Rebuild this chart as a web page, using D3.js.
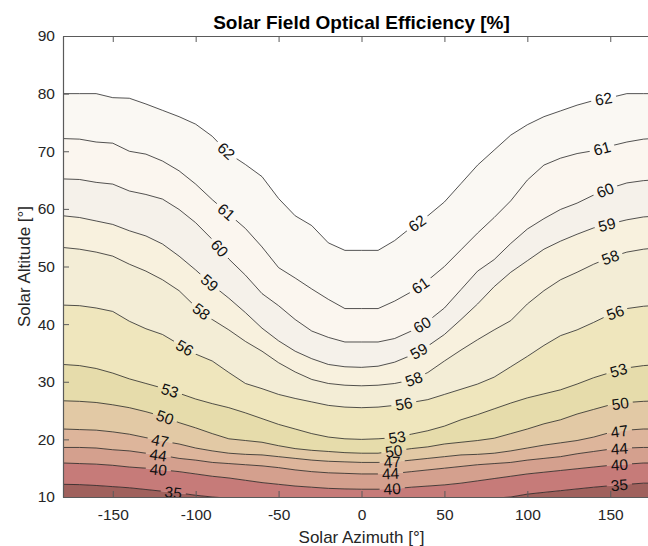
<!DOCTYPE html>
<html>
<head>
<meta charset="utf-8">
<script src="https://cdn.jsdelivr.net/npm/d3@7"></script>
<style>
  body { margin: 0; background: #fff; }
  text { font-family: "Liberation Sans", Arial, sans-serif; }
</style>
</head>
<body>
<div id="chart"></div>
<script>
// chart size
var w = 648;
var h = 546;

// azimuth grid (deg) the isolines were read at
var azimuth = [-180, -170, -160, -150, -140, -130, -120, -110, -100, -90, -80, -70, -60, -50, -40, -30, -20, -10,
               0, 10, 20, 30, 40, 50, 60, 70, 80, 90, 100, 110, 120, 130, 140, 150, 160, 170, 180];

// contour levels [%]
var levels = [35, 40, 44, 47, 50, 53, 56, 58, 59, 60, 61, 62];

// solar altitude (deg) of each isoline, one value per azimuth
var iso35 = [12.2, 12.15, 12.0, 11.8, 11.6, 11.3, 11.0, 10.7, 10.3, 10.0, 9.8, 9.6, 9.5, 9.4, 9.3, 9.3, 9.2, 9.2,
             9.2, 9.2, 9.2, 9.3, 9.3, 9.4, 9.5, 9.6, 9.8, 10.0, 10.5, 10.8, 11.1, 11.4, 11.7, 11.95, 12.2, 12.4, 12.4];
var iso40 = [15.9, 15.8, 15.7, 15.5, 15.2, 15.0, 14.7, 14.4, 14.0, 13.6, 13.3, 12.9, 12.5, 12.2, 11.9, 11.7, 11.5, 11.4,
             11.35, 11.35, 11.45, 11.7, 11.9, 12.1, 12.4, 12.8, 13.2, 13.6, 14.0, 14.3, 14.6, 14.9, 15.2, 15.5, 15.7, 15.9, 15.9];
var iso44 = [18.6, 18.6, 18.5, 18.2, 18.0, 17.6, 17.2, 16.7, 16.4, 16.0, 15.8, 15.6, 15.4, 15.1, 14.7, 14.4, 14.2, 14.1,
             14.0, 14.0, 14.1, 14.4, 14.7, 15.0, 15.3, 15.6, 15.8, 16.0, 16.4, 16.7, 17.0, 17.5, 17.9, 18.3, 18.5, 18.6, 18.6];
var iso47 = [21.8, 21.7, 21.6, 21.3, 20.9, 20.3, 19.7, 19.2, 18.5, 18.0, 17.6, 17.4, 17.3, 17.0, 16.7, 16.4, 16.2, 16.1,
             16.0, 16.0, 16.1, 16.4, 16.7, 17.0, 17.3, 17.4, 17.6, 18.0, 18.5, 19.0, 19.4, 19.8, 20.4, 21.2, 21.6, 21.8, 21.8];
var iso50 = [26.7, 26.6, 26.4, 26.0, 25.5, 24.8, 24.0, 22.9, 22.0, 21.0, 20.1, 19.8, 19.5, 18.9, 18.4, 18.1, 17.9, 17.7,
             17.6, 17.6, 18.0, 18.4, 18.7, 19.2, 19.5, 19.8, 20.2, 21.0, 21.8, 22.7, 23.4, 24.4, 25.2, 26.0, 26.4, 26.6, 26.7];
var iso53 = [33.0, 32.8, 32.3, 31.5, 30.5, 29.7, 28.9, 28.0, 27.0, 26.2, 25.5, 24.6, 23.6, 22.6, 21.8, 21.0, 20.4, 20.1,
             20.0, 20.1, 20.3, 20.9, 21.5, 22.3, 23.4, 24.3, 25.3, 26.3, 27.2, 27.9, 28.6, 29.6, 30.7, 31.6, 32.4, 32.8, 33.0];
var iso56 = [43.3, 43.2, 42.8, 42.2, 40.5, 39.2, 38.2, 36.5, 34.8, 33.6, 31.6, 29.7, 28.8, 27.8, 27.1, 26.5, 25.9, 25.6,
             25.5, 25.6, 25.9, 26.4, 26.9, 27.8, 28.7, 29.6, 30.8, 32.6, 34.4, 36.3, 38.0, 39.0, 40.3, 41.7, 42.7, 43.1, 43.3];
var iso58 = [53.3, 53.0, 52.5, 51.8, 50.4, 49.2, 47.7, 45.8, 43.0, 40.8, 39.0, 37.0, 35.3, 33.3, 31.7, 30.4, 29.7, 29.4,
             29.3, 29.4, 29.7, 30.3, 31.6, 33.6, 35.5, 37.3, 39.0, 40.6, 43.5, 45.8, 47.7, 49.0, 50.4, 51.6, 52.5, 53.0, 53.3];
var iso59 = [58.8, 58.5, 57.9, 57.3, 56.2, 55.3, 53.9, 51.8, 49.4, 46.8, 44.5, 42.0, 39.3, 37.1, 35.3, 34.0, 33.0, 32.6,
             32.5, 32.7, 33.4, 34.6, 36.2, 38.2, 40.8, 43.5, 46.5, 49.0, 51.0, 53.0, 54.4, 55.6, 56.7, 57.4, 58.1, 58.6, 58.8];
var iso60 = [65.2, 65.1, 64.6, 64.3, 63.1, 62.5, 61.7, 59.9, 57.6, 54.7, 51.3, 48.5, 45.3, 43.2, 40.8, 38.8, 37.7, 36.9,
             36.9, 36.9, 37.5, 38.8, 40.5, 42.8, 46.0, 49.2, 51.2, 54.0, 56.5, 58.3, 59.9, 61.0, 62.4, 63.6, 64.5, 64.9, 65.1];
var iso61 = [72.2, 72.1, 71.6, 71.4, 70.0, 69.5, 68.3, 66.6, 64.3, 61.6, 59.1, 56.6, 53.4, 49.8, 48.0, 46.1, 44.3, 42.7,
             42.7, 42.7, 44.0, 45.6, 47.6, 50.0, 52.9, 55.8, 58.5, 61.4, 65.0, 67.6, 68.8, 69.6, 70.1, 70.9, 71.6, 72.1, 72.3];
var iso62 = [80.0, 80.0, 80.0, 79.3, 79.2, 78.2, 77.1, 76.0, 74.7, 72.6, 69.6, 67.7, 65.6, 61.8, 58.8, 57.1, 54.1, 52.8,
             52.8, 52.8, 54.5, 56.8, 58.8, 61.2, 64.4, 67.6, 70.2, 72.8, 74.6, 76.0, 77.0, 78.0, 78.8, 79.3, 80.0, 80.0, 80.0];

var isolines = [iso35, iso40, iso44, iso47, iso50, iso53, iso56, iso58, iso59, iso60, iso61, iso62];

// fill colour of each band, from below 35 up to above 62
var bandColors = ["#a0615d", "#c67b79", "#d4a08e", "#ddb59b", "#e2c9a5", "#e6dcab", "#efe6bd",
                  "#f3edd6", "#f8f1de", "#f5f1ea", "#fbf6ef", "#faf8f3", "#ffffff"];

// azimuth where each level carries a label (left / middle / right)
var labelLeft  = [-113.5, -122.5, -122.5, -121.5, -118.5, -115.5, -106.5, -96.5, -91.5, -85.5, -81.5, -81.5];
var labelMid   = [null, 18.5, 17.5, 18.5, 19.5, 21.5, 25.5, 31.5, 34.5, 36.5, 35.5, 33.5];
var labelRight = [155.5, 155.5, 155.5, 155.5, 156, 155, 153, 150, 148, 147, 145, 146];

var xTicks = [-150, -100, -50, 0, 50, 100, 150];
var yTicks = [10, 20, 30, 40, 50, 60, 70, 80, 90];

// scales (the axes box runs past the right edge of the window)
var xScale = d3.scaleLinear().domain([-180, 180]).range([63, 660]);
var yScale = d3.scaleLinear().domain([10, 90]).range([497, 36]);

var svg = d3.select("#chart")
            .append("svg")
            .attr("width", w)
            .attr("height", h);

var defs = svg.append("defs");
defs.append("clipPath").attr("id", "plotclip")
    .append("rect")
    .attr("x", 63).attr("y", 36)
    .attr("width", 597).attr("height", 461);

var plot = svg.append("g").attr("clip-path", "url(#plotclip)");

// filled bands between consecutive isolines
bandColors.forEach(function(col, i) {
    var lower = i === 0 ? null : isolines[i - 1];
    var upper = i === isolines.length ? null : isolines[i];
    var area = d3.area()
        .x(function(d, j) { return xScale(azimuth[j]); })
        .y0(function(d, j) { return lower ? yScale(lower[j]) : yScale(0); })
        .y1(function(d, j) { return upper ? yScale(upper[j]) : yScale(100); });
    plot.append("path")
        .datum(azimuth)
        .attr("d", area)
        .attr("fill", col)
        .attr("stroke", col)
        .attr("stroke-width", 0.3);
});

// contour labels: position on the line, rotated to follow it
var labelData = [];
levels.forEach(function(lv, i) {
    var f = d3.scaleLinear().domain(azimuth).range(isolines[i]);
    [labelLeft[i], labelMid[i], labelRight[i]].forEach(function(az) {
        if (az === null) return;
        var x1 = xScale(az - 4), y1 = yScale(f(az - 4));
        var x2 = xScale(az + 4), y2 = yScale(f(az + 4));
        labelData.push({
            text: String(lv),
            x: xScale(az),
            y: yScale(f(az)),
            angle: Math.atan2(y2 - y1, x2 - x1) * 180 / Math.PI
        });
    });
});

var mask = defs.append("mask")
    .attr("id", "gapmask")
    .attr("maskUnits", "userSpaceOnUse")
    .attr("x", 0).attr("y", 0).attr("width", w).attr("height", h);
mask.append("rect").attr("width", w).attr("height", h).attr("fill", "#fff");

var lineGroup = plot.append("g").attr("mask", "url(#gapmask)");
var line = d3.line()
    .x(function(d, j) { return xScale(azimuth[j]); })
    .y(function(d) { return yScale(d); });

isolines.forEach(function(iso) {
    lineGroup.append("path")
        .datum(iso)
        .attr("d", line)
        .attr("fill", "none")
        .attr("stroke", "#1a1a1a")
        .attr("stroke-width", 0.75);
});

var labels = plot.append("g")
    .selectAll("text")
    .data(labelData)
    .enter()
    .append("text")
    .attr("transform", function(d) { return "translate(" + d.x + "," + d.y + ") rotate(" + d.angle + ")"; })
    .attr("text-anchor", "middle")
    .attr("dy", "0.36em")
    .attr("font-size", 15.5)
    .attr("fill", "#111")
    .text(function(d) { return d.text; });

labels.each(function(d) {
    var tw = this.getComputedTextLength();
    mask.append("rect")
        .attr("transform", "translate(" + d.x + "," + d.y + ") rotate(" + d.angle + ")")
        .attr("x", -tw / 2 - 4)
        .attr("y", -7)
        .attr("width", tw + 8)
        .attr("height", 14)
        .attr("fill", "#000");
});

// axes
var axisColor = "#5a5a5a";

var xAxis = d3.axisBottom(xScale)
    .tickValues(xTicks)
    .tickSizeInner(-6)
    .tickSizeOuter(0)
    .tickPadding(12)
    .tickFormat(function(d) { return String(d); });

var xAxisTop = d3.axisTop(xScale)
    .tickValues(xTicks)
    .tickSizeInner(-6)
    .tickSizeOuter(0)
    .tickFormat("");

var yAxis = d3.axisLeft(yScale)
    .tickValues(yTicks)
    .tickSizeInner(-6)
    .tickSizeOuter(0)
    .tickPadding(8)
    .tickFormat(function(d) { return String(d); });

var gx = svg.append("g").attr("transform", "translate(0,497)").call(xAxis);
var gt = svg.append("g").attr("transform", "translate(0,36)").call(xAxisTop);
var gy = svg.append("g").attr("transform", "translate(63,0)").call(yAxis);

[gx, gt, gy].forEach(function(g) {
    g.select(".domain").attr("stroke", axisColor).attr("stroke-width", 1.2);
    g.selectAll(".tick line").attr("stroke", axisColor).attr("stroke-width", 1);
    g.selectAll(".tick text")
        .attr("font-family", "'Liberation Sans', Arial, sans-serif")
        .attr("font-size", 15.5)
        .attr("fill", "#262626");
});

// title and axis labels
svg.append("text")
    .attr("x", 361.5).attr("y", 29)
    .attr("text-anchor", "middle")
    .attr("font-size", 19)
    .attr("font-weight", "bold")
    .attr("fill", "#000")
    .text("Solar Field Optical Efficiency [%]");

svg.append("text")
    .attr("x", 361.5).attr("y", 543)
    .attr("text-anchor", "middle")
    .attr("font-size", 17)
    .attr("fill", "#262626")
    .text("Solar Azimuth [°]");

svg.append("text")
    .attr("transform", "translate(29.5,266.5) rotate(-90)")
    .attr("text-anchor", "middle")
    .attr("font-size", 17)
    .attr("fill", "#262626")
    .text("Solar Altitude [°]");
</script>
</body>
</html>
